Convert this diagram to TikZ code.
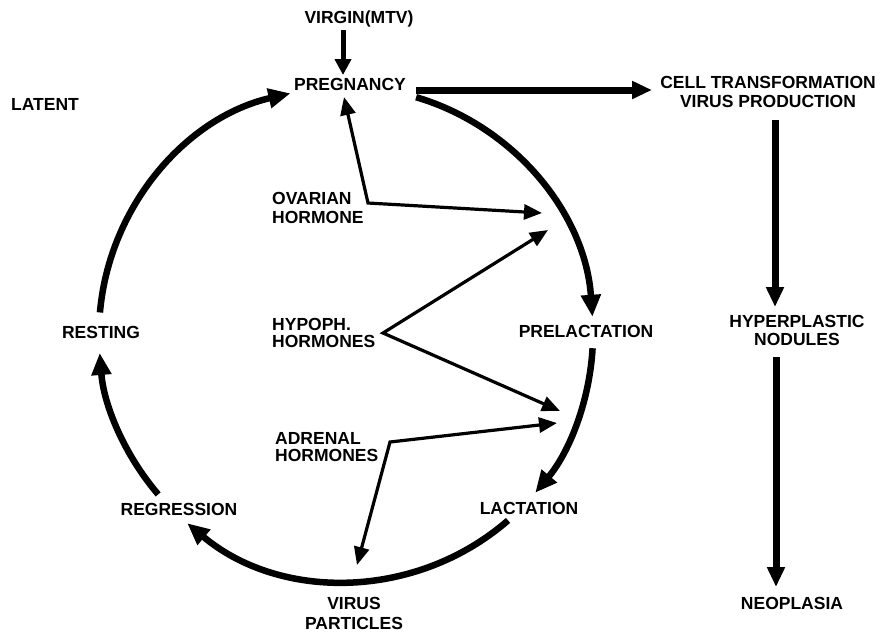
\documentclass[tikz,border=0pt]{standalone}
\usepackage{fontspec}
\setmainfont{Liberation Sans}
\usetikzlibrary{arrows.meta}
\begin{document}
\begin{tikzpicture}[x=1pt,y=-1pt,
  lbl/.style={font=\fontsize{17.5}{18.5}\selectfont\bfseries, inner sep=0pt},
  bigarc/.style={line width=6.5pt, -{Triangle[length=22pt,width=19pt]}},
  bigline/.style={line width=7pt, -{Triangle[length=20pt,width=17pt]}},
  midline/.style={line width=5pt, -{Triangle[length=16pt,width=16pt]}},
  thinline/.style={line width=3.2pt, miter limit=20,
    {Triangle[length=18pt,width=15pt]}-{Triangle[length=18pt,width=15pt]}}
]
\useasboundingbox (0,0) rectangle (884,633);

% labels
\node[lbl, anchor=base] (virgin) at (359,23) {VIRGIN(MTV)};
\node[lbl, anchor=base] (preg) at (350,90) {PREGNANCY};
\node[lbl, anchor=base] (latent) at (45,110) {LATENT};
\node[lbl, anchor=base] (rest) at (101,338) {RESTING};
\node[lbl, anchor=base] (prelac) at (586,337) {PRELACTATION};
\node[lbl, anchor=base] (regr) at (179,515) {REGRESSION};
\node[lbl, anchor=base] (lact) at (529,514) {LACTATION};
\node[lbl, anchor=base] (neo) at (792,609) {NEOPLASIA};
\node[lbl, align=center, anchor=north] (cell) at (768,76) {CELL TRANSFORMATION\\[0.5pt]VIRUS PRODUCTION};
\node[lbl, align=center, anchor=north] (hyper) at (797,315) {HYPERPLASTIC\\NODULES};
\node[lbl, align=center, anchor=north] (virus) at (354,597) {VIRUS\\[1.5pt]PARTICLES};
\node[lbl, align=left, anchor=north west] (ovar) at (272,192) {OVARIAN\\[0.5pt]HORMONE};
\node[lbl, align=left, anchor=north west] (hypo) at (272,318) {HYPOPH.\\[-1.5pt]HORMONES};
\node[lbl, align=left, anchor=north west] (adren) at (275,432) {ADRENAL\\[-1.5pt]HORMONES};

% the cycle (circle centre and radius)
\coordinate (cc) at (346,334);
\draw[bigarc] (cc) ++(185:247) arc[start angle=185, end angle=257, radius=247];
\draw[bigarc] (cc) ++(286.5:247) arc[start angle=286.5, end angle=356, radius=247];
\draw[bigarc] (cc) ++(3.3:247) arc[start angle=3.3, end angle=40, radius=247];
\draw[bigarc] (cc) ++(49:247) arc[start angle=49, end angle=130, radius=247];
\draw[bigarc] (cc) ++(139.5:247) arc[start angle=139.5, end angle=175.6, radius=247];

% straight arrows
\coordinate (vgA) at (343,30);
\coordinate (vgB) at (343,75);
\draw[midline] (vgA) -- (vgB);

\coordinate (hA) at (416,90);
\coordinate (hB) at (652,90);
\draw[bigline] (hA) -- (hB);

\coordinate (r1A) at (775,120);
\coordinate (r1B) at (775,307);
\draw[bigline] (r1A) -- (r1B);

\coordinate (r2A) at (776,357);
\coordinate (r2B) at (776,587);
\draw[bigline] (r2A) -- (r2B);

% hormone arrows
\coordinate (ovA) at (344,97);
\coordinate (ovB) at (368,203);
\coordinate (ovC) at (542,213);
\draw[thinline] (ovA) -- (ovB) -- (ovC);

\coordinate (hyA) at (548,230);
\coordinate (hyB) at (383,333);
\coordinate (hyC) at (560,411);
\draw[thinline] (hyA) -- (hyB) -- (hyC);

\coordinate (adA) at (557,423);
\coordinate (adB) at (390,442);
\coordinate (adC) at (357,565);
\draw[thinline] (adA) -- (adB) -- (adC);
\end{tikzpicture}
\end{document}
